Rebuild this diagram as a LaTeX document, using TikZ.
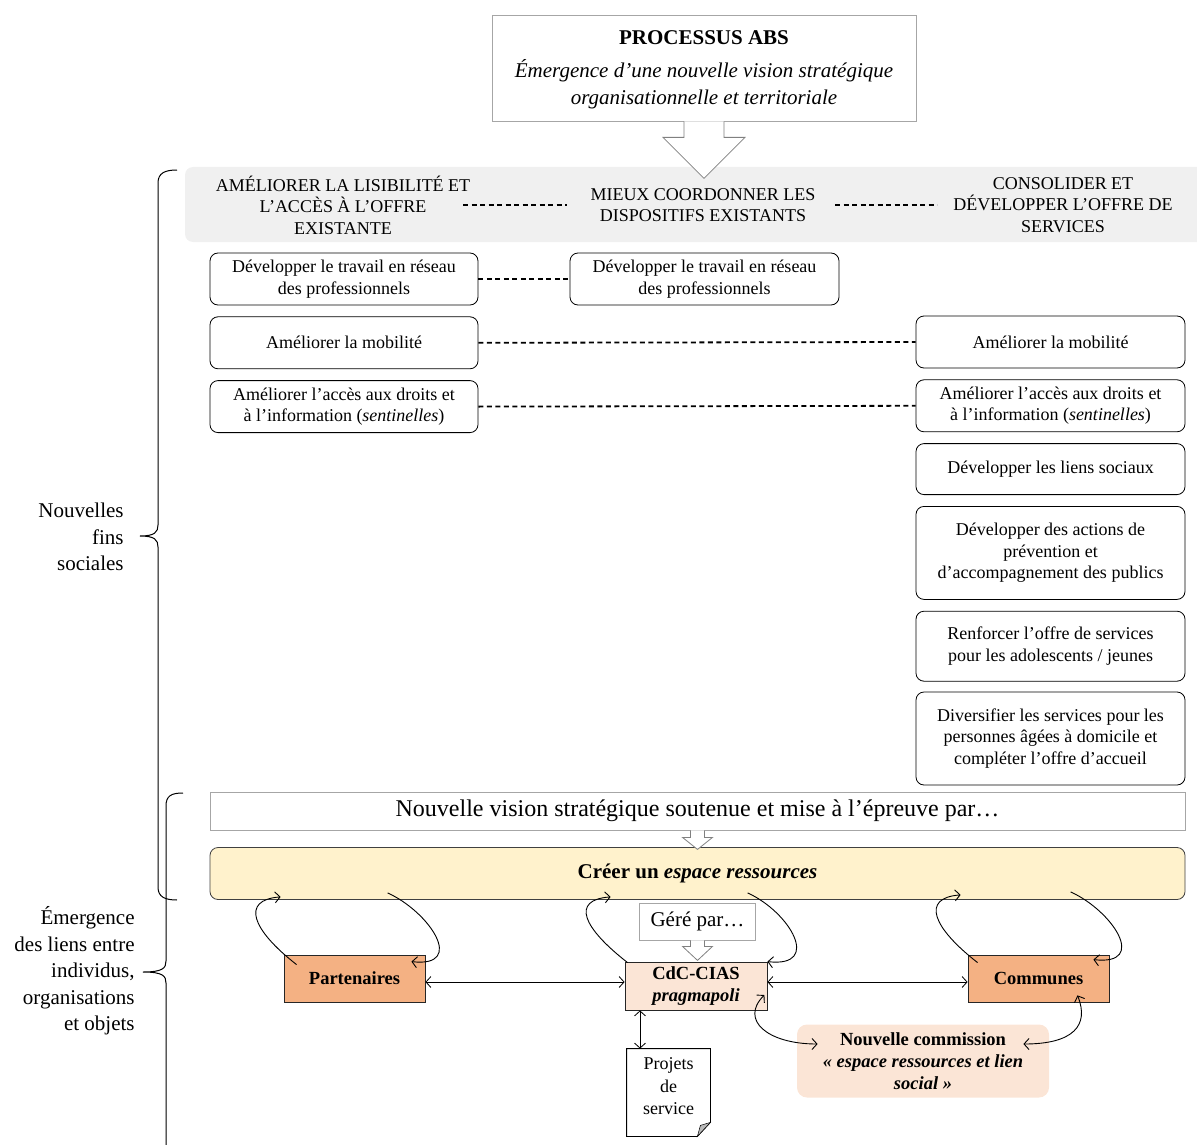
\documentclass[tikz,border=0pt]{standalone}
\usepackage{fontspec}
\setmainfont{Liberation Serif}
\usetikzlibrary{positioning, calc, arrows.meta}

\definecolor{bandgray}{HTML}{F0F0F0}
\definecolor{creerfill}{HTML}{FFF2CC}
\definecolor{acteurfill}{HTML}{F4B183}
\definecolor{cdcfill}{HTML}{FBE5D6}
\definecolor{cadregray}{HTML}{A6A6A6}
\newcommand{\fsz}[2]{\fontsize{#1}{#2}\selectfont}

\begin{document}
\begin{tikzpicture}[x=1pt, y=-1pt, line width=0.8pt, >={Straight Barb[length=5pt,width=11pt]},
    fin/.style={draw, rounded corners=8pt, minimum width=268pt, minimum height=52pt, align=center, inner sep=2pt, font=\fsz{18}{21.5}},
    entete/.style={align=center, inner sep=0pt, font=\fsz{18}{21.5}},
    tirets/.style={line width=1.8pt, dash pattern=on 5pt off 3.5pt},
    cadre/.style={draw=cadregray, align=center},
    acteur/.style={draw=black!85, fill=acteurfill, minimum width=141pt, minimum height=47pt, align=center, inner sep=1pt, font=\fsz{18.5}{22}\bfseries},
    creux/.style={draw=gray, fill=white},
    boucle/.style={->, line width=0.9pt},
    accolade/.style={line width=1pt},
    legende/.style={align=right, inner sep=0pt, font=\fsz{21}{26.5}}]
    \useasboundingbox (0,0) rectangle (1197,1145);

    % bandeau des trois axes
    \node[fill=bandgray, rounded corners=8pt, minimum width=1030pt, minimum height=75pt] (bande) at (700,204.5) {};
    \node[entete] (hdrA) at (343,205) {AMÉLIORER LA LISIBILITÉ ET\\L’ACCÈS À L’OFFRE\\EXISTANTE};
    \node[entete] (hdrB) at (703,205) {MIEUX COORDONNER LES\\DISPOSITIFS EXISTANTS};
    \node[entete] (hdrC) at (1063,205) {CONSOLIDER ET\\DÉVELOPPER L’OFFRE DE\\SERVICES};
    \draw[tirets] ([xshift=120pt]hdrA.center) -- ([xshift=-136pt]hdrB.center);
    \draw[tirets] ([xshift=132pt]hdrB.center) -- ([xshift=-126pt]hdrC.center);

    \node[cadre, minimum width=424pt, minimum height=106pt, font=\fsz{21}{27}] (processus) at (704,68) {};
    \node[align=center, font=\fsz{21}{27}] (processustxt) at (704,70)
        {\textbf{PROCESSUS ABS}\\[6pt]\textit{Émergence d’une nouvelle vision stratégique}\\\textit{organisationnelle et territoriale}};
    \draw[creux] ([xshift=-20pt]processus.south) -- ++(0,16) -- ++(-21,0) -- ++(41,41) -- ++(41,-41) -- ++(-21,0) -- ++(0,-16);

    % fins sociales
    \node[fin] (a1) at (344,279) {Développer le travail en réseau\\des professionnels};
    \node[fin, below=11pt of a1] (a2) {Améliorer la mobilité};
    \node[fin, below=11pt of a2] (a3) {Améliorer l’accès aux droits et\\à l’information (\textit{sentinelles})};
    \node[fin, minimum width=269pt] (b1) at (704.5,279) {Développer le travail en réseau\\des professionnels};
    \node[fin, minimum width=269pt] (c1) at (1050.5,342) {Améliorer la mobilité};
    \node[fin, minimum width=269pt, below=11pt of c1] (c2) {Améliorer l’accès aux droits et\\à l’information (\textit{sentinelles})};
    \node[fin, minimum width=269pt, minimum height=51pt, below=11pt of c2] (c3) {Développer les liens sociaux};
    \node[fin, minimum width=269pt, minimum height=93pt, below=11pt of c3] (c4) {Développer des actions de\\prévention et\\d’accompagnement des publics};
    \node[fin, minimum width=269pt, minimum height=70pt, below=11pt of c4] (c5) {Renforcer l’offre de services\\pour les adolescents / jeunes};
    \node[fin, minimum width=269pt, minimum height=93pt, below=10pt of c5] (c6) {Diversifier les services pour les\\personnes âgées à domicile et\\compléter l’offre d’accueil};
    \draw[tirets] (a1.east) -- (b1.west);
    \draw[tirets] (a2.east) -- (c1.west);
    \draw[tirets] (a3.east) -- (c2.west);

    % espace ressources
    \node[cadre, minimum width=975pt, minimum height=38pt, font=\fsz{24}{28}] (vision) at (697.5,811) {Nouvelle vision stratégique soutenue et mise à l’épreuve par…};
    \node[draw=black!75, fill=creerfill, rounded corners=8pt, minimum width=975pt, minimum height=52pt, font=\fsz{21}{25}\bfseries] (creer) at (697.5,873.5) {Créer un \textit{espace ressources}};
    \draw[creux] ([xshift=-7pt]vision.south) -- ++(0,7) -- ++(-8,0) -- ++(15,12) -- ++(15,-12) -- ++(-8,0) -- ++(0,-7);
    \node[cadre, minimum width=116pt, minimum height=37pt, font=\fsz{21}{25}] (gere) at (697.5,921.5) {Géré par…};
    \draw[creux] ([xshift=-7pt]gere.south) -- ++(0,6) -- ++(-8,0) -- ++(15,14) -- ++(15,-14) -- ++(-8,0) -- ++(0,-6);

    \node[acteur] (part) at (354.5,978.5) {Partenaires};
    \node[acteur, fill=cdcfill, minimum width=142pt, minimum height=48pt] (cdc) at (696,986) {CdC-CIAS\\\textit{pragmapoli}};
    \node[acteur] (comm) at (1038.5,978.5) {Communes};
    \node[fill=cdcfill, rounded corners=10pt, minimum width=252pt, minimum height=73pt, align=center, inner sep=1pt, font=\fsz{18.5}{22}\bfseries] (comsn) at (923,1061)
        {Nouvelle commission\\\textit{«~espace ressources et lien}\\\textit{social~»}};
    \node[minimum width=83pt, minimum height=87pt, inner sep=0pt,
        label={[align=center, font=\fsz{18}{22.5}, yshift=6pt]center:Projets\\de\\service}] (projets) at (668.5,1092.5) {};
    \draw (projets.north west) -- (projets.north east) -- ([yshift=14pt]projets.south east) -- ([xshift=-13pt]projets.south east) -- (projets.south west) -- cycle;
    \draw[fill=gray!55, line width=0.5pt] ([yshift=14pt]projets.south east) -- ([xshift=-13pt]projets.south east) -- ([xshift=-10pt,yshift=11pt]projets.south east) -- cycle;

    \draw[<->] ([yshift=-3.5pt]part.east) -- ([yshift=4pt]cdc.west);
    \draw[<->] ([yshift=4pt]cdc.east) -- ([yshift=-3.5pt]comm.west);
    \draw[<->] ([xshift=-56pt]cdc.south) -- ([xshift=-56pt]cdc.south |- projets.north);

    % boucles
    \draw[boucle] ($(part.north west)+(13,10)$) .. controls +(-45,-35) and +(-40,3) .. ($(creer.south west)+(71,-3)$);
    \draw[boucle] ($(creer.south west)+(178,-7)$) .. controls +(42,19) and +(55,6) .. ($(part.north east)+(-14,7)$);
    \draw[boucle] ($(cdc.north west)+(3,1)$) .. controls +(-45,-35) and +(-40,3) .. ($(creer.south west)+(401,-3)$);
    \draw[boucle] ($(creer.south west)+(538,-7)$) .. controls +(42,19) and +(55,6) .. (cdc.north east);
    \draw[boucle] ($(comm.north west)+(10,8)$) .. controls +(-45,-35) and +(-40,3) .. ($(creer.south west)+(751,-5)$);
    \draw[boucle] ($(creer.south west)+(861,-8)$) .. controls +(42,19) and +(55,6) .. ($(comm.north east)+(-16,5)$);
    \draw[boucle, <->] ($(cdc.east)+(-3,9)$) .. controls +(-25,25) and +(-50,0) .. ($(comsn.west)+(21,-17)$);
    \draw[boucle, <->] ($(comm.south)+(39,-7)$) .. controls +(12,30) and +(50,0) .. ($(comsn.east)+(-26,-17)$);

    % accolades
    \draw[accolade] (177,170) .. controls (165,170) and (158,173) .. (158,183) -- (158,525) .. controls (158,532) and (155,536) .. (140,536)
        .. controls (155,536) and (158,540) .. (158,547) -- (158,887) .. controls (158,897) and (165,900) .. (177,900);
    \draw[accolade] (183,793) .. controls (171,793) and (166,796) .. (166,806) -- (166,961) .. controls (166,968) and (163,972) .. (143,972)
        .. controls (163,972) and (166,976) .. (166,983) -- (166,1150);
    \node[legende, anchor=east] (finsoc) at (124,537) {Nouvelles\\fins\\sociales};
    \node[legende, anchor=east] (liens) at (135,971) {Émergence\\des liens entre\\individus,\\organisations\\et objets};
\end{tikzpicture}
\end{document}
